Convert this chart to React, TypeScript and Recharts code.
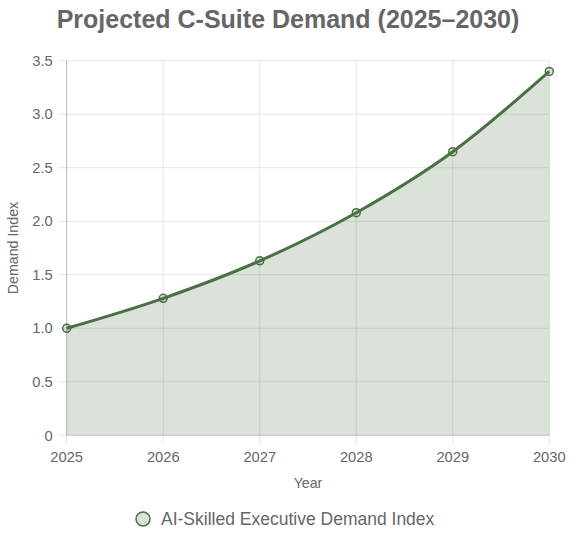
import React from 'react';
import { AreaChart, Area, XAxis, YAxis, CartesianGrid } from 'recharts';

const years = ['2025', '2026', '2027', '2028', '2029', '2030'];
const demandIndex = [1.0, 1.28, 1.63, 2.08, 2.65, 3.4];
const yTicks = [0, 0.5, 1.0, 1.5, 2.0, 2.5, 3.0, 3.5];
const seriesName = 'AI-Skilled Executive Demand Index';
const chartTitle = 'Projected C-Suite Demand (2025\u20132030)';
const xTitle = 'Year';
const yTitle = 'Demand Index';

const data = years.map((year, i) => ({ year, value: demandIndex[i] }));

const FONT = '"Liberation Sans", Arial, Helvetica, sans-serif';
const TEXT = '#666666';
const LINE = '#4a7045';
const FILL = 'rgba(74,112,69,0.2)';
const GRID = 'rgba(0,0,0,0.1)';

export default function App() {
  return (
    <div style={{ position: 'absolute', left: 0, top: 0, width: 570, height: 542, fontFamily: FONT }}>
      <div
        style={{
          position: 'absolute',
          left: 0,
          top: 7,
          width: 576,
          textAlign: 'center',
          fontSize: 25,
          lineHeight: '25px',
          fontWeight: 'bold',
          color: TEXT,
          whiteSpace: 'nowrap',
        }}
      >
        {chartTitle}
      </div>
      <AreaChart
        width={570}
        height={542}
        data={data}
        margin={{ top: 60.7, right: 20.7, bottom: 48.7, left: 0 }}
        style={{ position: 'absolute', left: 0, top: 0 }}
      >
        <CartesianGrid stroke={GRID} strokeWidth={1} />
        <XAxis
          dataKey="year"
          height={58}
          tickSize={9}
          tickMargin={7}
          tickLine={{ stroke: GRID }}
          axisLine={{ stroke: GRID }}
          tick={{ fill: TEXT, fontSize: 14.7, fontFamily: FONT }}
          interval={0}
          label={{
            value: xTitle,
            position: 'insideBottom',
            offset: 5,
            fill: TEXT,
            fontSize: 14.2,
            fontFamily: FONT,
          }}
        />
        <YAxis
          width={66.7}
          domain={[0, 3.5]}
          ticks={yTicks}
          interval={0}
          tickSize={9}
          tickMargin={5}
          tickLine={{ stroke: GRID }}
          axisLine={{ stroke: GRID }}
          tick={{ fill: TEXT, fontSize: 14.7, fontFamily: FONT }}
          tickFormatter={(v: number) => (v === 0 ? '0' : v.toFixed(1))}
          label={{
            value: yTitle,
            angle: -90,
            position: 'insideLeft',
            offset: 13,
            fill: TEXT,
            fontSize: 14.2,
            fontFamily: FONT,
            style: { textAnchor: 'middle' },
          }}
        />
        <Area
          type="monotone"
          dataKey="value"
          name={seriesName}
          stroke={LINE}
          strokeWidth={3}
          fill={FILL}
          fillOpacity={1}
          dot={{ r: 4, stroke: LINE, strokeWidth: 1.5, fill: FILL }}
          activeDot={false}
          isAnimationActive={false}
        />
      </AreaChart>
      <div
        style={{
          position: 'absolute',
          left: 135,
          top: 508,
          height: 22,
          display: 'flex',
          alignItems: 'center',
          whiteSpace: 'nowrap',
        }}
      >
        <svg width={18} height={18} style={{ marginRight: 8 }}>
          <circle cx={8} cy={9} r={7} fill="#dbe2da" stroke={LINE} strokeWidth={1.5} />
        </svg>
        <span style={{ fontSize: 17.5, color: TEXT, fontFamily: FONT }}>{seriesName}</span>
      </div>
    </div>
  );
}
